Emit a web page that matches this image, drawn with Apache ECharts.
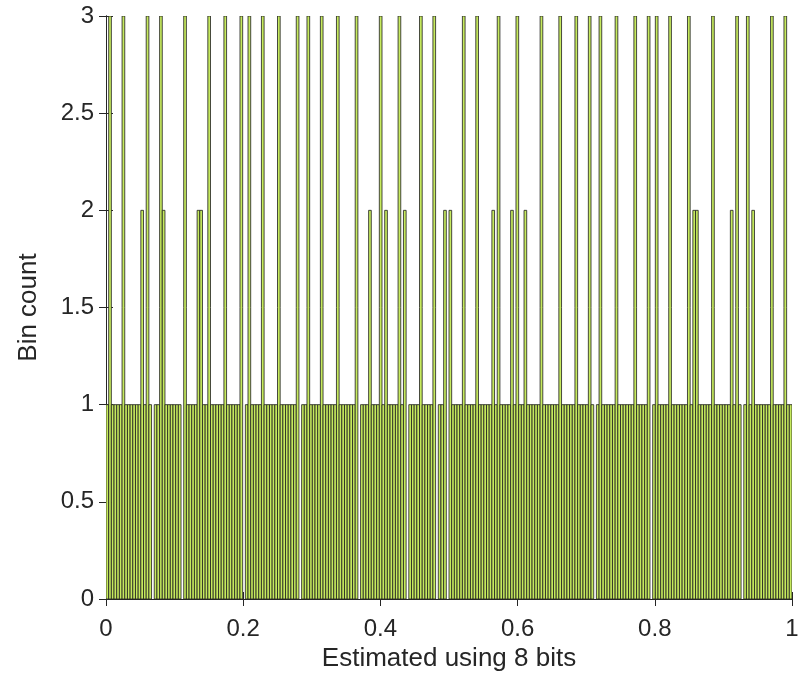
<!DOCTYPE html>
<html>
<head>
<meta charset="utf-8">
<script src="https://cdn.jsdelivr.net/npm/echarts@6/dist/echarts.min.js"></script>
<style>
  html, body { margin: 0; padding: 0; background: #ffffff; }
  #chart { width: 802px; height: 696px; }
</style>
</head>
<body>
<div id="chart"></div>
<script>
// Histogram of 256 equal-width bins spanning [0, 1]
const binRange = [0, 1];
const binCounts = [
  1,3,1,1,1,1,3,1,1,1, 1,1,1,2,1,3,1,0,1,1,
  3,2,1,1,1,1,1,1,0,3, 1,1,1,1,2,2,1,1,3,1,
  1,1,1,1,3,1,1,1,1,1, 3,0,1,3,1,1,1,1,3,1,
  1,1,1,1,3,1,1,1,1,1, 1,3,0,1,1,3,1,1,1,1,
  3,1,1,1,1,1,3,1,1,1, 1,1,1,3,0,1,1,1,2,1,
  1,1,3,1,2,1,1,1,1,3, 1,2,0,1,1,1,1,3,1,1,
  1,1,3,0,1,1,2,0,2,1, 1,1,1,3,1,1,1,1,3,1,
  1,1,1,1,2,1,3,1,1,1, 1,2,1,3,1,1,2,1,1,1,
  1,1,3,1,1,1,1,1,1,3, 1,1,1,1,1,3,1,1,1,1,
  3,1,0,1,3,1,1,1,1,1, 3,1,1,1,1,1,1,3,1,1,
  1,1,3,0,1,3,1,1,1,1, 3,1,1,1,1,1,1,3,1,2,
  2,1,1,1,1,1,3,1,1,1, 1,1,1,2,1,3,1,0,1,3,
  1,2,1,1,1,1,1,1,3,1, 1,1,1,3,1,1
];
const xTicks = [0, 0.2, 0.4, 0.6, 0.8, 1];
const yTicks = [0, 0.5, 1, 1.5, 2, 2.5, 3];

const xLabel = 'Estimated using 8 bits';
const yLabel = 'Bin count';

const nBins = binCounts.length;
const binWidth = (binRange[1] - binRange[0]) / nBins;
const histData = binCounts.map((c, i) => [binRange[0] + i * binWidth, binRange[0] + (i + 1) * binWidth, c]);

const axisColor = '#262626';
const fontFamily = 'Arial, "Liberation Sans", Helvetica, sans-serif';
const faceColor = '#c6ea5e';
const edgeColor = '#1e1e1e';

const xStep = xTicks[1] - xTicks[0];
const yStep = yTicks[1] - yTicks[0];

const chart = echarts.init(document.getElementById('chart'), null, { renderer: 'canvas' });

const tickStyle = { show: true, inside: true, length: 7, lineStyle: { color: axisColor, width: 1 } };
const lineStyle = { show: true, lineStyle: { color: axisColor, width: 1 } };

chart.setOption({
  animation: false,
  backgroundColor: '#ffffff',
  grid: { left: 106, right: 10, top: 16, bottom: 97, containLabel: false },
  xAxis: [
    {
      type: 'value', min: xTicks[0], max: xTicks[xTicks.length - 1], interval: xStep,
      position: 'bottom',
      axisLine: lineStyle, axisTick: tickStyle, splitLine: { show: false },
      axisLabel: { color: axisColor, fontSize: 24, fontFamily: fontFamily, margin: 18 },
      name: xLabel, nameLocation: 'middle', nameGap: 35,
      nameTextStyle: { color: axisColor, fontSize: 26, fontFamily: fontFamily }
    },
    {
      type: 'value', min: xTicks[0], max: xTicks[xTicks.length - 1], interval: xStep,
      position: 'top',
      axisLine: lineStyle, axisTick: tickStyle, splitLine: { show: false },
      axisLabel: { show: false }
    }
  ],
  yAxis: [
    {
      type: 'value', min: yTicks[0], max: yTicks[yTicks.length - 1], interval: yStep,
      position: 'left',
      axisLine: lineStyle, axisTick: tickStyle, splitLine: { show: false },
      axisLabel: { color: axisColor, fontSize: 24, fontFamily: fontFamily, margin: 12 },
      name: yLabel, nameLocation: 'middle', nameGap: 64, nameRotate: 90,
      nameTextStyle: { color: axisColor, fontSize: 26, fontFamily: fontFamily }
    },
    {
      type: 'value', min: yTicks[0], max: yTicks[yTicks.length - 1], interval: yStep,
      position: 'right',
      axisLine: lineStyle, axisTick: tickStyle, splitLine: { show: false },
      axisLabel: { show: false }
    }
  ],
  series: [{
    type: 'custom',
    xAxisIndex: 0,
    yAxisIndex: 0,
    data: histData,
    encode: { x: [0, 1], y: 2 },
    clip: true,
    z: 1,
    renderItem: function (params, api) {
      const x0 = api.value(0), x1 = api.value(1), h = api.value(2);
      if (h <= 0) return null;
      const p0 = api.coord([x0, 0]);
      const p1 = api.coord([x1, h]);
      const rect = echarts.graphic.clipRectByRect(
        { x: p0[0], y: p1[1], width: p1[0] - p0[0], height: p0[1] - p1[1] },
        { x: params.coordSys.x, y: params.coordSys.y, width: params.coordSys.width, height: params.coordSys.height }
      );
      if (!rect) return null;
      return {
        type: 'rect',
        shape: rect,
        style: { fill: faceColor, stroke: edgeColor, lineWidth: 0.8 }
      };
    }
  }]
});
</script>
</body>
</html>
